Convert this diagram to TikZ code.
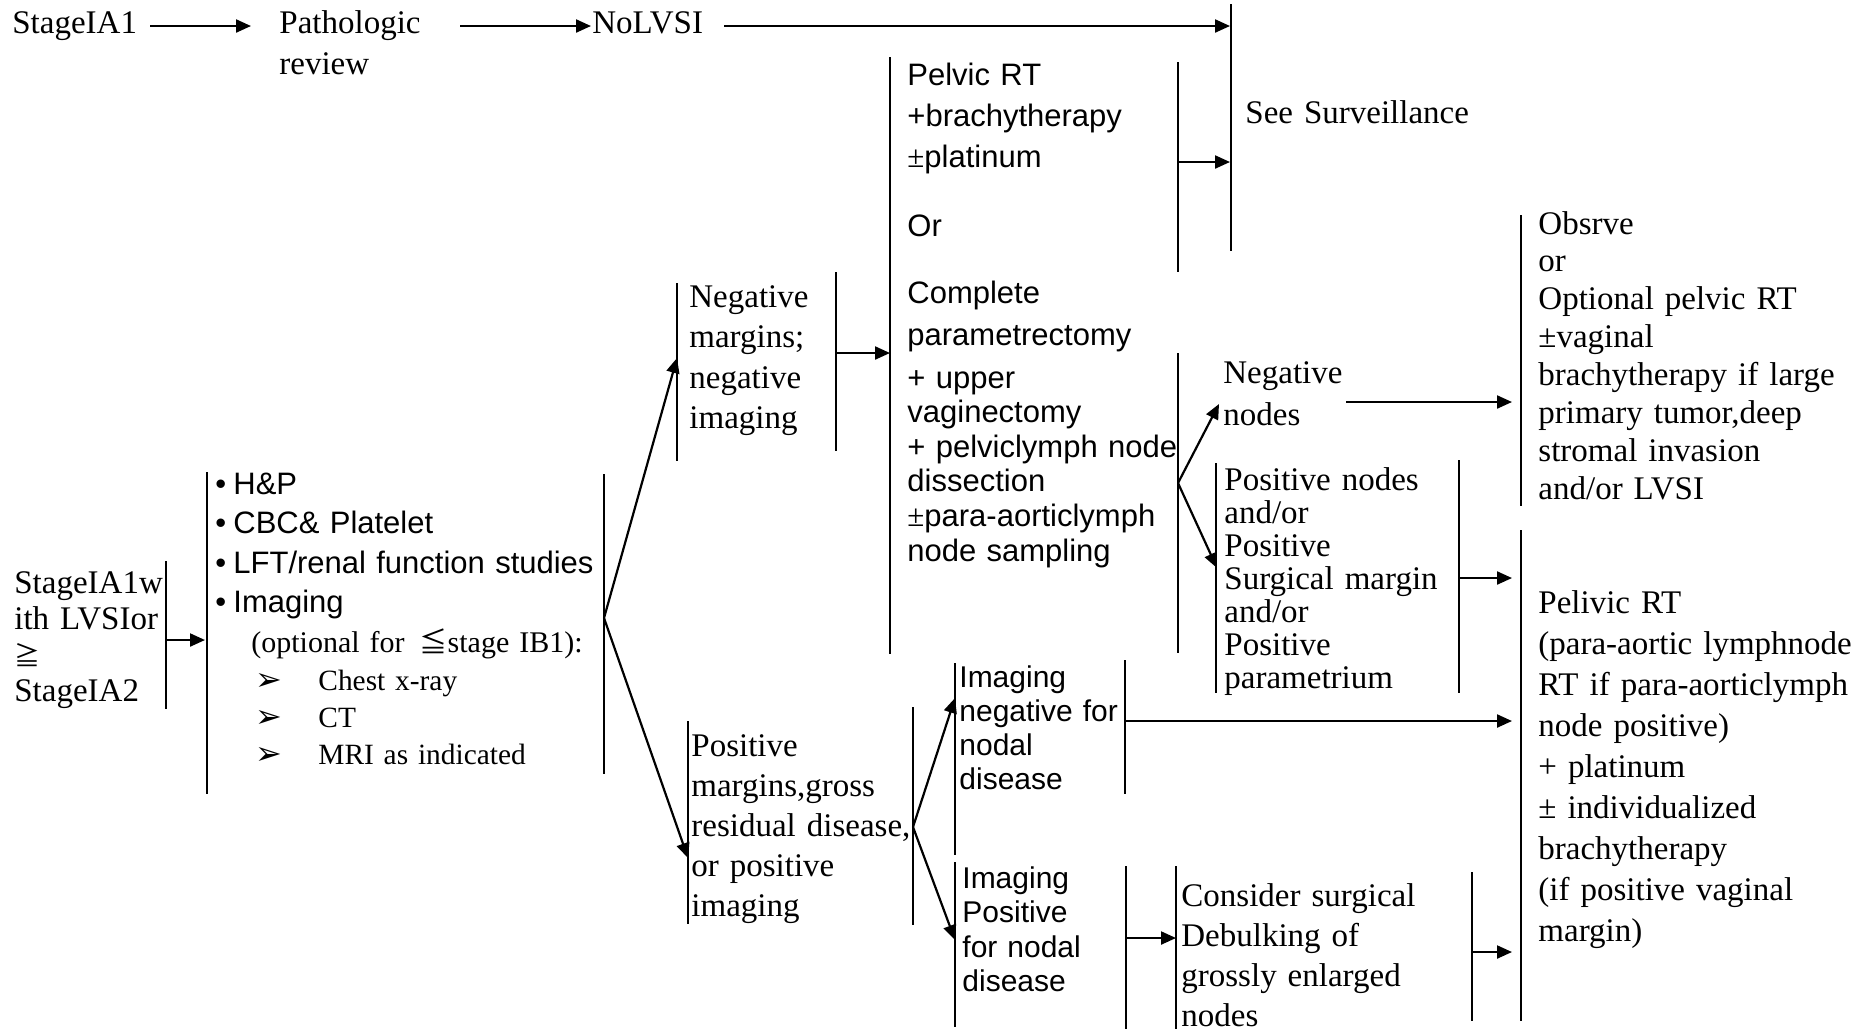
\documentclass[tikz,border=0pt]{standalone}
\usepackage{fontspec}
\setmainfont{Liberation Serif}
\setsansfont{Liberation Sans}
\newfontfamily\dvfont{DejaVu Sans}
\newfontfamily\cjkfont{Noto Sans CJK TC}
\usetikzlibrary{arrows.meta}
\newcommand\fsz[2]{\fontsize{#1}{#2}\selectfont}
\begin{document}
\begin{tikzpicture}[x=0.5pt,y=-0.5pt,
  bar/.style={line width=0.8pt},
  arr/.style={line width=1.1pt,-{Triangle[length=7.5pt,width=6.5pt]}},
  blk/.style={anchor=base west, inner sep=0pt, align=left, text width=#1},
]
\fill[white] (0,0) rectangle (1872,1030);
\useasboundingbox (0,0) rectangle (1872,1030);

% ---------- top row ----------
\node[blk=80pt, font=\fsz{16.5}{20}] (s1) at (12,33) {StageIA1};
\node[blk=80pt, font=\fsz{16.5}{20.5}] (path) at (279,33) {Pathologic\\review};
\node[blk=80pt, font=\fsz{16.5}{20}] (nolvsi) at (592,33) {NoLVSI};
\node[blk=120pt, font=\fsz{16.5}{20}] (surv) at (1245,123) {See Surveillance};

% ---------- middle column (sans) ----------
\node[blk=140pt, font=\sffamily\fsz{15.5}{20.5}] (pelv) at (907,85) {Pelvic RT\\+brachytherapy\\{\rmfamily ±}platinum};
\node[blk=60pt, font=\sffamily\fsz{15.5}{20}] (orr) at (907,236) {Or};
\node[blk=140pt, font=\sffamily\fsz{15.5}{21}] (compl) at (907,303) {Complete\\parametrectomy};
\node[blk=140pt, font=\sffamily\fsz{15.5}{17.3}] (upper) at (907,388) {+ upper\\vaginectomy\\+ pelviclymph node\\dissection\\{\rmfamily ±}para-aorticlymph\\node sampling};

% ---------- nodes outcome ----------
\node[blk=80pt, font=\fsz{16.5}{21}] (negn) at (1223,383) {Negative\\nodes};
\node[blk=120pt, font=\fsz{16.5}{16.5}] (posn) at (1224,490) {Positive nodes\\and/or\\Positive\\Surgical margin\\and/or\\Positive\\parametrium};
\node[blk=170pt, font=\fsz{16.5}{18.95}] (obs) at (1538,234) {Obsrve\\or\\Optional pelvic RT\\±vaginal\\brachytherapy if large\\primary tumor,deep\\stromal invasion\\and/or LVSI};
\node[blk=170pt, font=\fsz{16.5}{20.5}] (pel2) at (1538,613) {Pelivic RT\\(para-aortic lymphnode\\RT if para-aorticlymph\\node positive)\\+ platinum\\± individualized\\brachytherapy\\(if positive vaginal\\margin)};

% ---------- lower branch ----------
\node[blk=100pt, font=\sffamily\fsz{15}{17}] (imneg) at (959,687) {Imaging\\negative for\\nodal\\disease};
\node[blk=100pt, font=\sffamily\fsz{15}{17.25}] (impos) at (962,888) {Imaging\\Positive\\for nodal\\disease};
\node[blk=140pt, font=\fsz{16.5}{20}] (cons) at (1181,906) {Consider surgical\\Debulking of\\grossly enlarged\\nodes};
\node[blk=120pt, font=\fsz{16.5}{20}] (posm) at (691,756) {Positive\\margins,gross\\residual disease,\\or positive\\imaging};
\node[blk=80pt, font=\fsz{16.5}{20.3}] (negm) at (689,307) {Negative\\margins;\\negative\\imaging};

% ---------- left ----------
\node[blk=80pt, font=\fsz{16.5}{18}] (stg) at (14,593) {StageIA1w\\ith LVSIor\\{\cjkfont\fsz{13}{18}≧}\\StageIA2};
\node[blk=200pt, font=\sffamily\fsz{15.5}{19.75}] (work) at (215,494) {\makebox[9pt][l]{•}H\&P\\\makebox[9pt][l]{•}CBC\& Platelet\\\makebox[9pt][l]{•}LFT/renal function studies\\\makebox[9pt][l]{•}Imaging};
\node[blk=200pt, font=\fsz{15}{20}] (opt) at (251,652) {(optional for \,{\cjkfont\fsz{14}{20}≦}stage IB1):};
\node[blk=200pt, font=\fsz{14.7}{18.5}] (tests) at (255,690) {\makebox[31.5pt][l]{\dvfont\fsz{16}{18.5}➢}Chest x-ray\\\makebox[31.5pt][l]{\dvfont\fsz{16}{18.5}➢}CT\\\makebox[31.5pt][l]{\dvfont\fsz{16}{18.5}➢}MRI as indicated};

% ---------- bars ----------
\draw[bar] (1231,4) -- (1231,251);
\draw[bar] (890,57) -- (890,654);
\draw[bar] (1178,62) -- (1178,272);
\draw[bar] (1178,353) -- (1178,653);
\draw[bar] (1216,463) -- (1216,693);
\draw[bar] (1459,460) -- (1459,693);
\draw[bar] (1521,215) -- (1521,506);
\draw[bar] (1521,530) -- (1521,1021);
\draw[bar] (677,283) -- (677,461);
\draw[bar] (836,272) -- (836,451);
\draw[bar] (688,721) -- (688,924);
\draw[bar] (913,707) -- (913,925);
\draw[bar] (955,663) -- (955,855);
\draw[bar] (1125,660) -- (1125,794);
\draw[bar] (955,862) -- (955,1027);
\draw[bar] (1126,866) -- (1126,1029);
\draw[bar] (1176,866) -- (1176,1029);
\draw[bar] (1472,872) -- (1472,1021);
\draw[bar] (166,561) -- (166,709);
\draw[bar] (207,472) -- (207,794);
\draw[bar] (604,474) -- (604,774);

% ---------- connector coordinates ----------
\coordinate (a1s) at (150,26);  \coordinate (a1e) at (251,26);
\coordinate (a2s) at (460,26);  \coordinate (a2e) at (591,26);
\coordinate (a3s) at (724,26);  \coordinate (a3e) at (1230,26);
\coordinate (a4s) at (1178,162); \coordinate (a4e) at (1230,162);
\coordinate (a5s) at (836,353); \coordinate (a5e) at (890,353);
\coordinate (br1) at (1178,483);
\coordinate (a6e) at (1219,404); \coordinate (a7e) at (1217,568);
\coordinate (a8s) at (1346,402); \coordinate (a8e) at (1512,402);
\coordinate (a9s) at (1459,578); \coordinate (a9e) at (1512,578);
\coordinate (a10s) at (166,640); \coordinate (a10e) at (205,640);
\coordinate (br2) at (604,618);
\coordinate (a11e) at (677,358); \coordinate (a12e) at (688,858);
\coordinate (br3) at (913,827);
\coordinate (a13e) at (955,698); \coordinate (a14e) at (955,940);
\coordinate (a15s) at (1125,721); \coordinate (a15e) at (1512,721);
\coordinate (a16s) at (1126,938); \coordinate (a16e) at (1176,938);
\coordinate (a17s) at (1472,952); \coordinate (a17e) at (1512,952);

\draw[arr] (a1s) -- (a1e);
\draw[arr] (a2s) -- (a2e);
\draw[arr] (a3s) -- (a3e);
\draw[arr] (a4s) -- (a4e);
\draw[arr] (a5s) -- (a5e);
\draw[arr] (br1) -- (a6e);
\draw[arr] (br1) -- (a7e);
\draw[arr] (a8s) -- (a8e);
\draw[arr] (a9s) -- (a9e);
\draw[arr] (a10s) -- (a10e);
\draw[arr] (br2) -- (a11e);
\draw[arr] (br2) -- (a12e);
\draw[arr] (br3) -- (a13e);
\draw[arr] (br3) -- (a14e);
\draw[arr] (a15s) -- (a15e);
\draw[arr] (a16s) -- (a16e);
\draw[arr] (a17s) -- (a17e);
\end{tikzpicture}
\end{document}
